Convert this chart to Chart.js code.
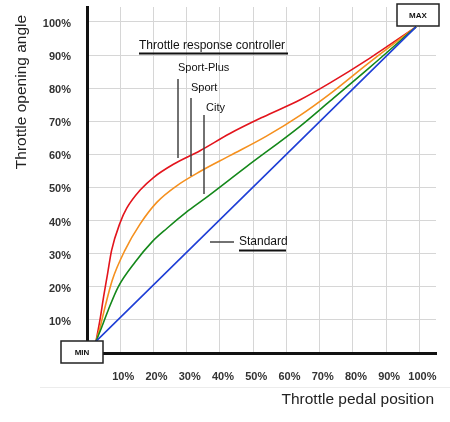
<!DOCTYPE html>
<html>
<head>
<meta charset="utf-8">
<script src="https://cdn.jsdelivr.net/npm/chart.js@4"></script>
<style>
  html, body { margin: 0; padding: 0; background: #fff; }
  #wrap { width: 450px; height: 422px; }
</style>
</head>
<body>
<div id="wrap"><canvas id="chart" width="450" height="422"></canvas></div>
<script>
// pedal position (%) -> throttle opening (%)
const xTicks = [10, 20, 30, 40, 50, 60, 70, 80, 90, 100];
const yTicks = [10, 20, 30, 40, 50, 60, 70, 80, 90, 100];

const standardX = [2.7, 99];
const standardY = [3.5, 98.5];

const cityX = [2.7, 4.5, 6.4, 9.4, 14.5, 19.5, 24, 30, 35, 48, 64, 73, 85, 99];
const cityY = [3.5, 8, 13, 20, 27.5, 33.5, 37.6, 42.6, 46.3, 56.3, 68.4, 76, 86.2, 98.5];

const sportX = [2.7, 4, 5.2, 7.6, 11.4, 16, 21, 27, 34, 43, 54, 64, 73, 85, 99];
const sportY = [3.5, 8, 13, 22, 31, 39, 45.5, 50.5, 54.8, 59.6, 65.5, 71.7, 78.2, 87.8, 98.5];

const sportPlusX = [2.7, 3.9, 5.0, 6.2, 7.4, 9.9, 12, 16, 20, 26, 34, 43, 53, 64, 73, 85, 99];
const sportPlusY = [3.5, 10, 17, 24, 31, 39.2, 43.8, 49.2, 53, 57, 61.1, 66.3, 71.3, 76.4, 81.5, 89, 98.5];

const seriesNames = ['Standard', 'City', 'Sport', 'Sport-Plus'];
const seriesColors = ['#1f3fd6', '#14881a', '#f5901e', '#e3141c'];

const FONT = "'Liberation Sans', Arial, sans-serif";

function pts(xs, ys) {
    return xs.map((x, i) => ({ x: x, y: ys[i] }));
}

// labels, leader lines and MIN / MAX boxes
const overlay = {
    id: 'overlay',
    beforeDraw(chart) {
        const ctx = chart.ctx;
        ctx.save();
        ctx.strokeStyle = '#ececec';
        ctx.lineWidth = 1;
        ctx.beginPath();
        ctx.moveTo(40, 387.5);
        ctx.lineTo(450, 387.5);
        ctx.stroke();
        ctx.restore();
    },
    afterDraw(chart) {
        const ctx = chart.ctx;
        ctx.save();

        // axis titles
        ctx.fillStyle = '#222';
        ctx.font = '15.5px ' + FONT;
        ctx.textAlign = 'right';
        ctx.textBaseline = 'middle';
        ctx.fillText('Throttle pedal position', 434, 400);
        ctx.save();
        ctx.translate(22, 92);
        ctx.rotate(-Math.PI / 2);
        ctx.textAlign = 'center';
        ctx.fillText('Throttle opening angle', 0, 0);
        ctx.restore();

        // heading
        ctx.fillStyle = '#111';
        ctx.font = '12px ' + FONT;
        ctx.textAlign = 'left';
        ctx.fillText('Throttle response controller', 139, 46);
        ctx.fillRect(139, 52.5, 149, 2);

        // mode labels with leader lines
        ctx.font = '11px ' + FONT;
        ctx.fillText('Sport-Plus', 178, 68);
        ctx.fillText('Sport', 191, 88);
        ctx.fillText('City', 206, 108);
        ctx.strokeStyle = '#444';
        ctx.lineWidth = 1.5;
        ctx.beginPath();
        ctx.moveTo(178, 79); ctx.lineTo(178, 158);
        ctx.moveTo(191, 98); ctx.lineTo(191, 176);
        ctx.moveTo(204, 115); ctx.lineTo(204, 194);
        ctx.moveTo(210, 242); ctx.lineTo(234, 242);
        ctx.stroke();

        ctx.font = '12px ' + FONT;
        ctx.fillStyle = '#111';
        ctx.fillText('Standard', 239, 242);
        ctx.fillRect(239, 249.5, 47, 2);

        // MIN / MAX boxes
        function box(x, y, w, h, text) {
            ctx.fillStyle = '#fff';
            ctx.fillRect(x, y, w, h);
            ctx.strokeStyle = '#222';
            ctx.lineWidth = 1.5;
            ctx.strokeRect(x, y, w, h);
            ctx.fillStyle = '#111';
            ctx.font = 'bold 8px ' + FONT;
            ctx.textAlign = 'center';
            ctx.fillText(text, x + w / 2, y + h / 2 + 0.5);
        }
        box(61, 341, 42, 22, 'MIN');
        box(397, 4, 42, 22, 'MAX');

        ctx.restore();
    }
};

new Chart(document.getElementById('chart').getContext('2d'), {
    type: 'line',
    data: {
        datasets: [
            { label: seriesNames[0], data: pts(standardX, standardY), borderColor: seriesColors[0] },
            { label: seriesNames[1], data: pts(cityX, cityY), borderColor: seriesColors[1] },
            { label: seriesNames[2], data: pts(sportX, sportY), borderColor: seriesColors[2] },
            { label: seriesNames[3], data: pts(sportPlusX, sportPlusY), borderColor: seriesColors[3] }
        ]
    },
    options: {
        responsive: false,
        animation: false,
        layout: { padding: { top: 7, right: 14, left: 0, bottom: 0 } },
        elements: {
            point: { radius: 0 },
            line: { borderWidth: 1.6, cubicInterpolationMode: 'monotone', fill: false }
        },
        scales: {
            x: {
                type: 'linear',
                min: 0,
                max: 105,
                afterFit: function (s) {
                    s.height = 69;
                    s.paddingLeft = 0;
                    s.paddingRight = 0;
                },
                afterBuildTicks: function (s) { s.ticks = xTicks.map(v => ({ value: v })); },
                grid: { color: '#d6d6d6', lineWidth: 1, drawTicks: false },
                border: { color: '#111', width: 3 },
                ticks: {
                    callback: v => v + '%',
                    color: '#333',
                    font: { family: FONT, size: 11, weight: 'bold' },
                    padding: 17,
                    labelOffset: 3,
                    maxRotation: 0,
                    autoSkip: false
                }
            },
            y: {
                type: 'linear',
                min: 0,
                max: 104.5,
                afterFit: function (s) {
                    s.width = 87;
                    s.paddingTop = 0;
                    s.paddingBottom = 0;
                },
                afterBuildTicks: function (s) { s.ticks = yTicks.map(v => ({ value: v })); },
                grid: { color: '#d6d6d6', lineWidth: 1, drawTicks: false },
                border: { color: '#111', width: 3 },
                ticks: {
                    callback: v => v + '%',
                    color: '#333',
                    font: { family: FONT, size: 11, weight: 'bold' },
                    padding: 16,
                    labelOffset: 2,
                    autoSkip: false
                }
            }
        },
        plugins: {
            legend: { display: false },
            title: { display: false },
            tooltip: { enabled: false }
        }
    },
    plugins: [overlay]
});
</script>
</body>
</html>
